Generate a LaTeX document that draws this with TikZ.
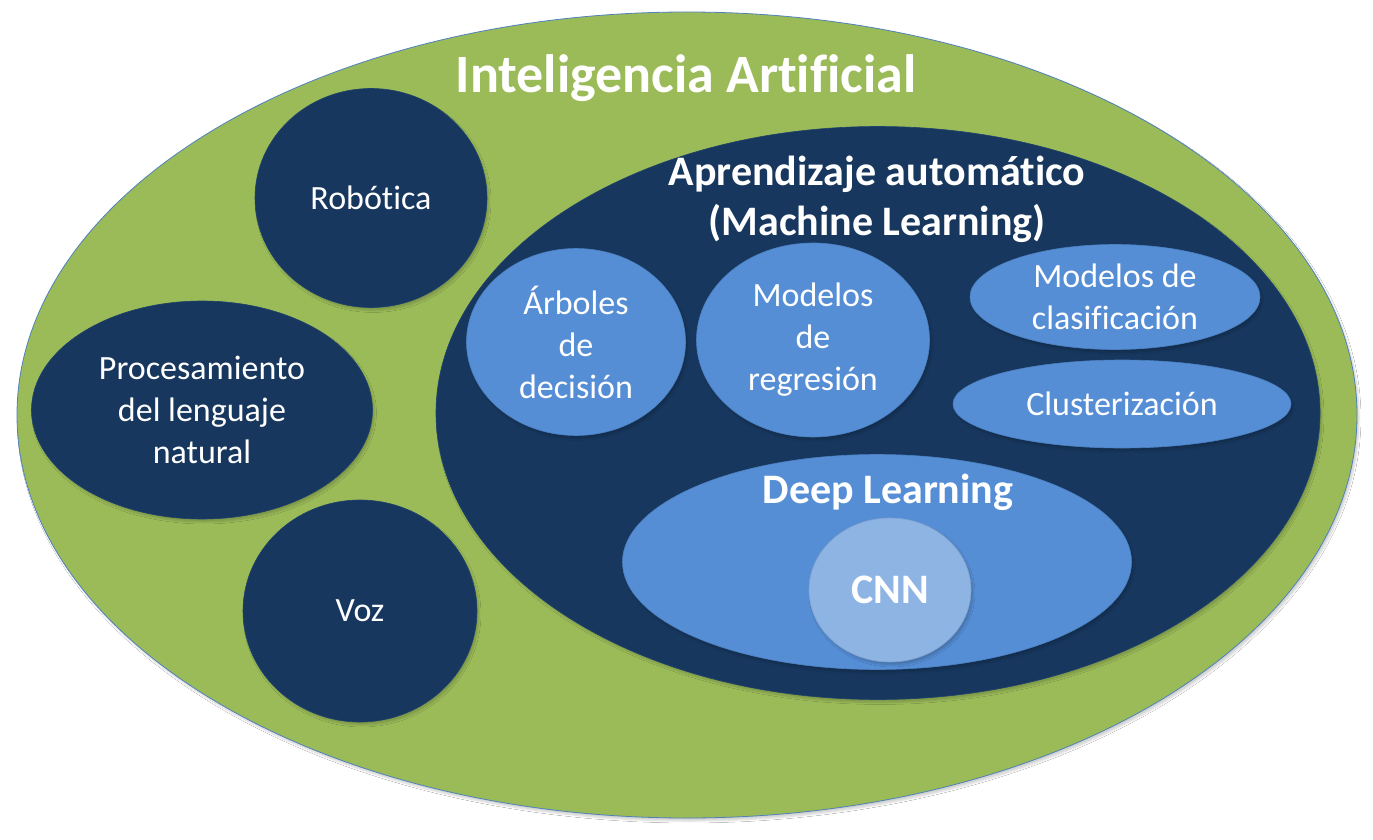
\documentclass[tikz,border=0pt]{standalone}
\usepackage{fontspec}
\setmainfont{Carlito}[Ligatures={NoCommon}]
\usetikzlibrary{positioning, shapes.geometric, shadows.blur}

\definecolor{iaVerde}{HTML}{9BBB59}
\definecolor{mlAzul}{HTML}{17375E}
\definecolor{subAzul}{HTML}{558ED5}
\definecolor{cnnAzul}{HTML}{8EB4E3}
\definecolor{bordeAzul}{HTML}{4F81BD}

\begin{document}
\begin{tikzpicture}[
    x=1pt, y=-1pt, % coordenadas en pixeles, y hacia abajo
    zona/.style={ellipse, inner sep=0pt, align=center, text=white,
        blur shadow={shadow xshift=2pt, shadow yshift=-3pt,
                     shadow opacity=18, shadow blur steps=6}},
    oscuro/.style={zona, fill=mlAzul, draw=mlAzul!85!bordeAzul, line width=0.6pt},
    medio/.style={zona, fill=subAzul, draw=subAzul!90!black, line width=0.6pt},
    claro/.style={zona, fill=cnnAzul, draw=cnnAzul!90!black, line width=0.6pt},
    txt/.style={font=\fontsize{34}{42}\selectfont},  % texto normal
    titulo/.style={text=white, align=center, anchor=base,
        font=\bfseries\fontsize{42}{50}\selectfont}   % titulos en negrita
]
    \fill[white] (0,0) rectangle (1373,840);
    \useasboundingbox (0,0) rectangle (1373,840);

    % 1. Inteligencia Artificial (elipse exterior)
    \node[zona, fill=iaVerde, draw=bordeAzul, line width=0.8pt,
          minimum width=1340pt, minimum height=806pt] (ia) at (687,415) {};
    \node[titulo, font=\bfseries\fontsize{54}{64}\selectfont] (iaTitulo) at (686,93)
        {Inteligencia Artificial};

    % 2. Areas de la izquierda
    \node[oscuro, txt, minimum width=232pt, minimum height=219pt] (robotica) at (371,198) {Robótica};
    \node[oscuro, txt, minimum width=341pt, minimum height=218pt] (pln) at (202,410)
        {Procesamiento\\del lenguaje\\natural};
    \node[oscuro, txt, minimum width=234pt, minimum height=222pt] (voz) at (360,611) {Voz};

    % 3. Aprendizaje automatico
    \node[oscuro, minimum width=884pt, minimum height=573pt] (ml) at (878,413) {};
    \node[titulo] (mlTitulo) at (877,235) {Aprendizaje automático\\(Machine Learning)};

    \node[medio, txt, minimum width=219pt, minimum height=187pt] (arboles) at (576,342)
        {Árboles\\de\\decisión};
    \node[medio, txt, minimum width=233pt, minimum height=194pt] (regresion) at (813,340)
        {Modelos\\de\\regresión};
    \node[medio, txt, minimum width=290pt, minimum height=105pt] (clasificacion) at (1115,297)
        {Modelos de\\clasificación};
    \node[medio, txt, minimum width=338pt, minimum height=88pt] (cluster) at (1122,404)
        {Clusterización};

    % 4. Deep Learning y CNN
    \node[medio, minimum width=509pt, minimum height=215pt] (dl) at (877,562) {};
    \node[titulo] (dlTitulo) at (888,503) {Deep Learning};
    \node[claro, font=\bfseries\fontsize{42}{50}\selectfont,
          minimum width=162pt, minimum height=144pt] (cnn) at (890,590) {CNN};
\end{tikzpicture}
\end{document}
